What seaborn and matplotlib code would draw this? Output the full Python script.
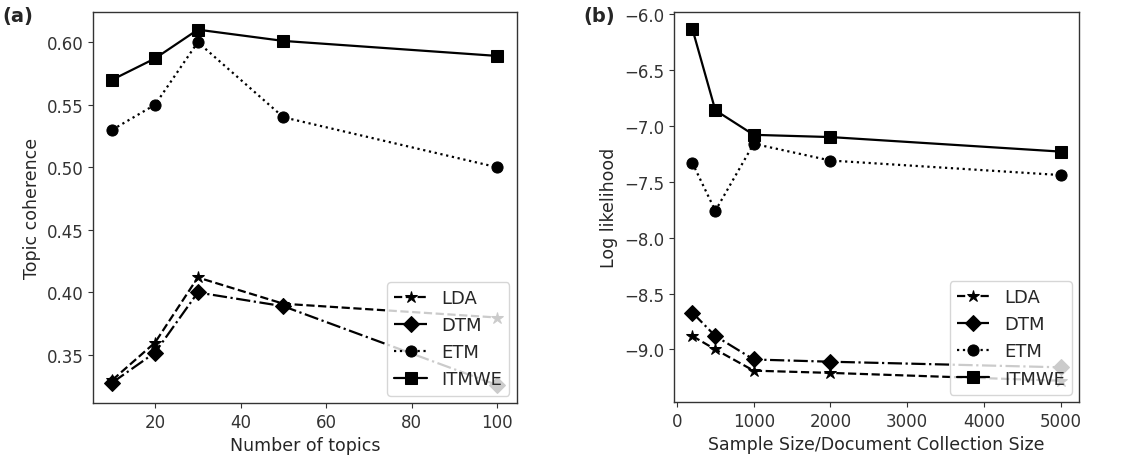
import matplotlib
matplotlib.use("Agg")
import matplotlib.pyplot as plt
import seaborn as sns

models = ["LDA", "DTM", "ETM", "ITMWE"]
styles = {"LDA": ("--", "*", 9), "DTM": ("-.", "D", 8), "ETM": (":", "o", 8), "ITMWE": ("-", "s", 8)}

# panel (a): topic coherence vs number of topics
n_topics = [10, 20, 30, 50, 100]
coherence = {
    "LDA": [0.330, 0.360, 0.412, 0.391, 0.380],
    "DTM": [0.328, 0.352, 0.400, 0.389, 0.326],
    "ETM": [0.530, 0.550, 0.600, 0.540, 0.500],
    "ITMWE": [0.570, 0.587, 0.610, 0.601, 0.589],
}

# panel (b): log likelihood vs sample size
sample_size = [200, 500, 1000, 2000, 5000]
loglik = {
    "LDA": [-8.88, -9.00, -9.19, -9.21, -9.28],
    "DTM": [-8.67, -8.88, -9.09, -9.11, -9.16],
    "ETM": [-7.33, -7.76, -7.16, -7.31, -7.44],
    "ITMWE": [-6.13, -6.86, -7.08, -7.10, -7.23],
}

sns.set_style("ticks")
plt.rcParams["font.family"] = ["DejaVu Sans"]
plt.rcParams["font.size"] = 12

fig = plt.figure(figsize=(11.48, 4.6), dpi=100)
ax1 = fig.add_axes([0.081, 0.122, 0.369, 0.850])
ax2 = fig.add_axes([0.587, 0.124, 0.353, 0.848])


def draw(ax, x, data):
    for m in models:
        ls, mk, ms = styles[m]
        sns.lineplot(x=x, y=data[m], ax=ax, color="black", linestyle=ls,
                     marker=mk, markersize=ms, linewidth=1.6, label=m,
                     markeredgecolor="black")
    ax.legend(loc="lower right", fontsize=13, framealpha=0.8,
              handlelength=1.8, labelspacing=0.5, borderaxespad=0.4)
    for s in ax.spines.values():
        s.set_linewidth(1.0)
        s.set_color("#333333")
    ax.tick_params(labelsize=12, colors="#333333")


draw(ax1, n_topics, coherence)
ax1.set_xlabel("Number of topics", fontsize=12.5)
ax1.set_ylabel("Topic coherence", fontsize=12.5)
ax1.set_yticks([0.35, 0.40, 0.45, 0.50, 0.55, 0.60])
ax1.set_xticks([20, 40, 60, 80, 100])

draw(ax2, sample_size, loglik)
ax2.set_xlabel("Sample Size/Document Collection Size", fontsize=12.5)
ax2.set_ylabel("Log likelihood", fontsize=12.5)
ax2.set_xticks([0, 1000, 2000, 3000, 4000, 5000])
ax2.set_ylim(-9.47, -5.98)

fig.text(0.002, 0.965, "(a)", fontsize=14, fontweight="bold", va="center")
fig.text(0.508, 0.965, "(b)", fontsize=14, fontweight="bold", va="center")

fig.savefig("out.png", dpi=100)
